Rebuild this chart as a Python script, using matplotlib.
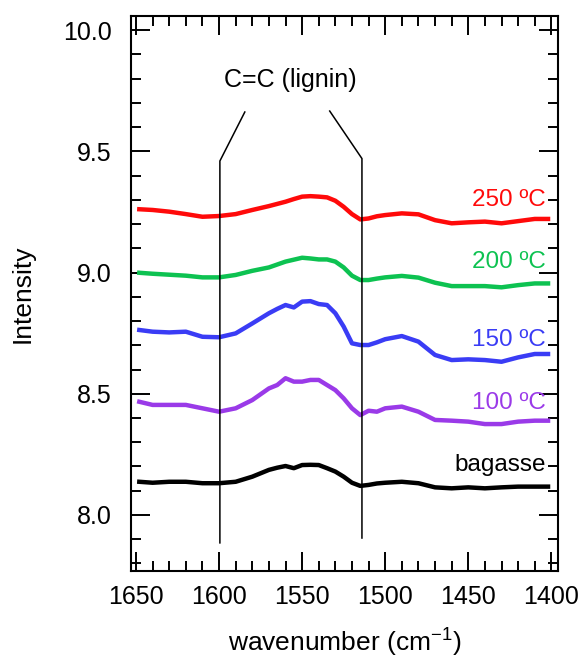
import matplotlib
matplotlib.use("Agg")
import matplotlib.pyplot as plt
from matplotlib.ticker import MultipleLocator

plt.rcParams['font.family'] = ['Liberation Sans', 'DejaVu Sans']

# Wavenumber grid (cm-1) shared by all spectra
wavenumber = [1648, 1640, 1630, 1620, 1610, 1600, 1590, 1580, 1570, 1565,
              1560, 1555, 1550, 1545, 1540, 1535, 1530, 1525, 1520, 1515,
              1510, 1505, 1500, 1490, 1480, 1470, 1460, 1450, 1440, 1430,
              1420, 1410, 1402]

t250 = [9.261, 9.258, 9.251, 9.241, 9.230, 9.233, 9.241, 9.258, 9.274, 9.283,
        9.292, 9.303, 9.313, 9.315, 9.313, 9.310, 9.296, 9.271, 9.241, 9.219,
        9.223, 9.232, 9.237, 9.244, 9.240, 9.216, 9.203, 9.207, 9.210, 9.203,
        9.212, 9.221, 9.221]
t200 = [8.999, 8.995, 8.991, 8.987, 8.980, 8.980, 8.990, 9.007, 9.021, 9.033,
        9.045, 9.053, 9.061, 9.058, 9.054, 9.054, 9.045, 9.021, 8.987, 8.969,
        8.969, 8.975, 8.980, 8.986, 8.979, 8.958, 8.944, 8.944, 8.944, 8.939,
        8.948, 8.955, 8.955]
t150 = [8.763, 8.756, 8.753, 8.756, 8.735, 8.733, 8.749, 8.790, 8.832, 8.850,
        8.866, 8.856, 8.880, 8.882, 8.870, 8.866, 8.832, 8.777, 8.708, 8.701,
        8.701, 8.712, 8.725, 8.738, 8.715, 8.660, 8.639, 8.642, 8.639, 8.632,
        8.650, 8.664, 8.664]
t100 = [8.467, 8.454, 8.454, 8.454, 8.440, 8.426, 8.440, 8.474, 8.522, 8.536,
        8.564, 8.550, 8.550, 8.557, 8.557, 8.536, 8.515, 8.481, 8.440, 8.412,
        8.430, 8.426, 8.440, 8.447, 8.426, 8.392, 8.389, 8.385, 8.375, 8.375,
        8.385, 8.389, 8.389]
bagasse = [8.137, 8.133, 8.137, 8.137, 8.131, 8.131, 8.137, 8.158, 8.186, 8.195,
           8.202, 8.193, 8.206, 8.207, 8.206, 8.193, 8.179, 8.158, 8.133, 8.120,
           8.124, 8.130, 8.133, 8.137, 8.131, 8.114, 8.110, 8.114, 8.110, 8.114,
           8.117, 8.117, 8.117]

series = [
    ("250 ºC", t250, "#ff0a0a", 9.299),
    ("200 ºC", t200, "#0dc251", 9.045),
    ("150 ºC", t150, "#3a3cf5", 8.722),
    ("100 ºC", t100, "#9a3ae8", 8.461),
    ("bagasse", bagasse, "#000000", 8.206),
]

fig = plt.figure(figsize=(5.87, 6.62), dpi=100)
ax = fig.add_axes([131 / 587, 1 - 571 / 662, 427 / 587, 555 / 662])

for name, vals, col, ylab in series:
    ax.plot(wavenumber, vals, color=col, lw=3.2, solid_joinstyle='round')
    ax.text(1403.5, ylab, name, color=col, fontsize=17.5, ha='right', va='center')

# Bracket marking the C=C (lignin) band
ax.plot([1599.5, 1599.5, 1584.5], [7.885, 9.46, 9.662], color='black', lw=1.1)
ax.plot([1514, 1514, 1533.4], [7.905, 9.47, 9.666], color='black', lw=1.1)
ax.text(1557, 9.794, "C=C (lignin)", fontsize=18, ha='center', va='center')

ax.set_xlim(1653, 1396)
ax.set_ylim(7.769, 10.058)
ax.xaxis.set_major_locator(MultipleLocator(50))
ax.xaxis.set_minor_locator(MultipleLocator(10))
ax.yaxis.set_major_locator(MultipleLocator(0.5))
ax.yaxis.set_minor_locator(MultipleLocator(0.1))
ax.set_yticks([8.0, 8.5, 9.0, 9.5, 10.0])
ax.set_yticklabels(["8.0", "8.5", "9.0", "9.5", "10.0"])

ax.tick_params(which='both', direction='in', top=True, right=True,
               width=1.4, labelsize=18)
ax.tick_params(axis='x', pad=10)
ax.tick_params(axis='y', pad=14)
ax.tick_params(which='major', length=13.5)
ax.tick_params(which='minor', length=7.2)
for s in ax.spines.values():
    s.set_linewidth(1.5)

ax.set_xlabel("wavenumber (cm$^{\\mathregular{-1}}$)", fontsize=19, labelpad=12)
ax.set_ylabel("Intensity", fontsize=19, labelpad=20)

fig.savefig("out.png", dpi=100)
